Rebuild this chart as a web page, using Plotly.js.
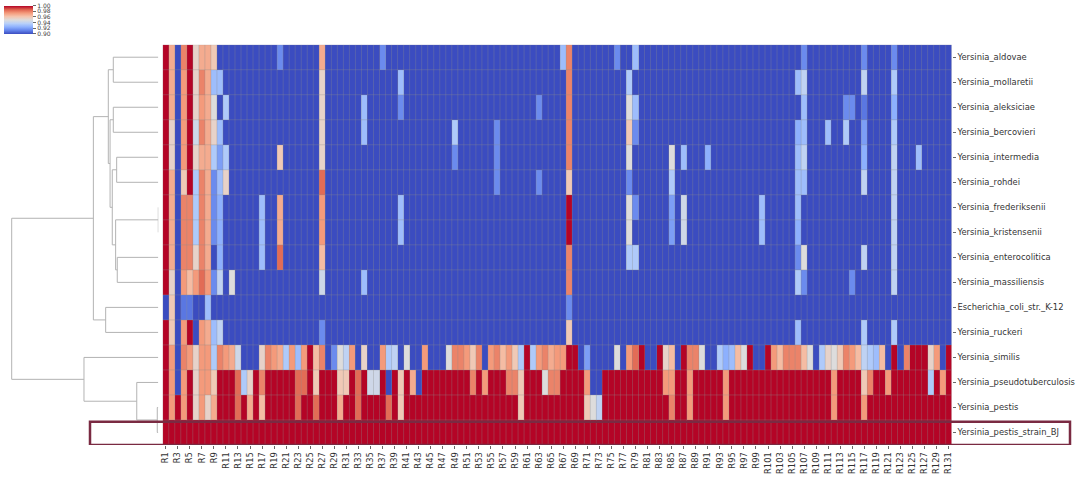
<!DOCTYPE html>
<html><head><meta charset="utf-8">
<script src="https://cdn.plot.ly/plotly-3.0.1.min.js"></script>
<style>html,body{margin:0;padding:0;background:#fff}#chart{width:1080px;height:480px}</style>
</head><body><div id="chart"></div>
<script>
const rowLabels = ["Yersinia_aldovae","Yersinia_mollaretii","Yersinia_aleksiciae","Yersinia_bercovieri","Yersinia_intermedia","Yersinia_rohdei","Yersinia_frederiksenii","Yersinia_kristensenii","Yersinia_enterocolitica","Yersinia_massiliensis","Escherichia_coli_str._K-12","Yersinia_ruckeri","Yersinia_similis","Yersinia_pseudotuberculosis","Yersinia_pestis","Yersinia_pestis_strain_BJ"];
const columnLabels = ["R1","R2","R3","R4","R5","R6","R7","R8","R9","R10","R11","R12","R13","R14","R15","R16","R17","R18","R19","R20","R21","R22","R23","R24","R25","R26","R27","R28","R29","R30","R31","R32","R33","R34","R35","R36","R37","R38","R39","R40","R41","R42","R43","R44","R45","R46","R47","R48","R49","R50","R51","R52","R53","R54","R55","R56","R57","R58","R59","R60","R61","R62","R63","R64","R65","R66","R67","R68","R69","R70","R71","R72","R73","R74","R75","R76","R77","R78","R79","R80","R81","R82","R83","R84","R85","R86","R87","R88","R89","R90","R91","R92","R93","R94","R95","R96","R97","R98","R99","R100","R101","R102","R103","R104","R105","R106","R107","R108","R109","R110","R111","R112","R113","R114","R115","R116","R117","R118","R119","R120","R121","R122","R123","R124","R125","R126","R127","R128","R129","R130","R131"];
const colorbarTicks = [0.90,0.92,0.94,0.96,0.98,1.00];
const colorbarTickText = ["0.90","0.92","0.94","0.96","0.98","1.00"];

const aldovae = [
1,.97,.9,.98,1,.955,.97,.97,.96,.9,
.9,.9,.9,.9,.9,.9,.9,.9,.9,.915,
.9,.9,.9,.9,.9,.9,.97,.9,.9,.9,
.9,.9,.9,.9,.9,.9,.915,.9,.9,.9,
.9,.9,.9,.9,.9,.9,.9,.9,.9,.9,
.9,.9,.9,.9,.9,.9,.9,.9,.9,.9,
.9,.9,.9,.9,.9,.9,.93,.98,.9,.9,
.9,.9,.9,.9,.9,.915,.9,.9,.93,.9,
.9,.9,.9,.9,.9,.9,.9,.9,.9,.9,
.9,.9,.9,.9,.9,.9,.9,.9,.9,.9,
.9,.9,.9,.9,.9,.9,.915,.9,.9,.9,
.9,.9,.9,.9,.9,.9,.915,.9,.9,.9,
.9,.915,.9,.9,.9,.9,.9,.9,.9,.9,
.9];
const mollaretii = [
1,.97,.9,.975,1,.955,.98,.97,.93,.93,
.9,.9,.9,.9,.9,.9,.9,.9,.9,.9,
.9,.9,.9,.9,.9,.9,.955,.9,.9,.9,
.9,.9,.9,.9,.9,.9,.9,.9,.9,.93,
.9,.9,.9,.9,.9,.9,.9,.9,.9,.9,
.9,.9,.9,.9,.9,.9,.9,.9,.9,.9,
.9,.9,.9,.9,.9,.9,.9,.98,.9,.9,
.9,.9,.9,.9,.9,.9,.9,.935,.9,.9,
.9,.9,.9,.9,.9,.9,.9,.9,.9,.9,
.9,.9,.9,.9,.9,.9,.9,.9,.9,.9,
.9,.9,.9,.9,.9,.93,.94,.9,.9,.9,
.9,.9,.9,.9,.9,.9,.94,.9,.9,.9,
.9,.935,.9,.9,.9,.9,.9,.9,.9,.9,
.9];
const aleksiciae = [
1,.97,.9,.975,1,.955,.975,.97,.95,.9,
.935,.9,.9,.9,.9,.9,.9,.9,.9,.9,
.9,.9,.9,.9,.9,.9,.955,.9,.9,.9,
.9,.9,.9,.93,.9,.9,.9,.9,.9,.915,
.9,.9,.9,.9,.9,.9,.9,.9,.9,.9,
.9,.9,.9,.9,.9,.9,.9,.9,.9,.9,
.9,.9,.915,.9,.9,.9,.9,.98,.9,.9,
.9,.9,.9,.9,.9,.9,.9,.95,.93,.9,
.9,.9,.9,.9,.9,.9,.9,.9,.9,.9,
.9,.9,.9,.9,.9,.9,.9,.9,.9,.9,
.9,.9,.9,.9,.9,.9,.93,.9,.9,.9,
.9,.9,.9,.915,.915,.9,.91,.9,.9,.9,
.9,.925,.9,.9,.9,.9,.9,.9,.9,.9,
.9];
const bercovieri = [
1,.955,.9,.975,1,.945,.98,.97,.955,.93,
.9,.9,.9,.9,.9,.9,.9,.9,.9,.9,
.9,.9,.9,.9,.9,.9,.955,.9,.9,.9,
.9,.9,.9,.93,.9,.9,.9,.9,.9,.9,
.9,.9,.9,.9,.9,.9,.9,.9,.935,.9,
.9,.9,.9,.9,.9,.915,.9,.9,.9,.9,
.9,.9,.9,.9,.9,.9,.9,.98,.9,.9,
.9,.9,.9,.9,.9,.9,.9,.96,.915,.9,
.9,.9,.9,.9,.9,.9,.9,.9,.9,.9,
.9,.9,.9,.9,.9,.9,.9,.9,.9,.9,
.9,.9,.9,.9,.9,.925,.93,.9,.9,.9,
.93,.9,.9,.935,.9,.9,.92,.9,.9,.9,
.9,.935,.9,.9,.9,.9,.9,.9,.9,.9,
.9];
const intermedia = [
1,.955,.9,.975,1,.955,.97,.97,.935,.92,
.935,.9,.9,.9,.9,.9,.9,.9,.9,.96,
.9,.9,.9,.9,.9,.9,.955,.9,.9,.9,
.9,.9,.9,.9,.9,.9,.9,.9,.9,.9,
.9,.9,.9,.9,.9,.9,.9,.9,.915,.9,
.9,.9,.9,.9,.9,.915,.9,.9,.9,.9,
.9,.9,.9,.9,.9,.9,.9,.98,.9,.9,
.9,.9,.9,.9,.9,.9,.9,.95,.9,.9,
.9,.9,.9,.9,.95,.9,.93,.9,.9,.9,
.925,.9,.9,.9,.9,.9,.9,.9,.9,.9,
.9,.9,.9,.9,.9,.93,.94,.9,.9,.9,
.9,.9,.9,.9,.9,.9,.925,.9,.9,.9,
.9,.94,.9,.9,.9,.93,.9,.9,.9,.9,
.9];
const rohdei = [
1,.97,.9,.96,1,.935,.98,.97,.915,.93,
.955,.9,.9,.9,.9,.9,.9,.9,.9,.9,
.9,.9,.9,.9,.9,.9,.985,.9,.9,.9,
.9,.9,.9,.9,.9,.9,.9,.9,.9,.9,
.9,.9,.9,.9,.9,.9,.9,.9,.9,.9,
.9,.9,.9,.9,.9,.915,.9,.9,.9,.9,
.9,.9,.915,.9,.9,.9,.9,.96,.9,.9,
.9,.9,.9,.9,.9,.9,.9,.915,.9,.9,
.9,.9,.9,.9,.935,.9,.9,.9,.9,.9,
.9,.9,.9,.9,.9,.9,.9,.9,.9,.9,
.9,.9,.9,.9,.9,.93,.93,.9,.9,.9,
.9,.9,.9,.9,.9,.9,.94,.9,.9,.9,
.9,.94,.9,.9,.9,.9,.9,.9,.9,.9,
.9];
const frederiksenii = [
1,.97,.9,.98,.98,.935,.98,.97,.915,.925,
.9,.9,.9,.9,.9,.9,.93,.9,.9,.97,
.9,.9,.9,.9,.9,.9,.975,.9,.9,.9,
.9,.9,.9,.9,.9,.9,.9,.9,.9,.93,
.9,.9,.9,.9,.9,.9,.9,.9,.9,.9,
.9,.9,.9,.9,.9,.9,.9,.9,.9,.9,
.9,.9,.9,.9,.9,.9,.9,1,.9,.9,
.9,.9,.9,.9,.9,.9,.9,.95,.915,.9,
.9,.9,.9,.9,.92,.9,.945,.9,.9,.9,
.9,.9,.9,.9,.9,.9,.9,.9,.9,.93,
.9,.9,.9,.9,.9,.93,.9,.9,.9,.9,
.9,.9,.9,.9,.9,.9,.9,.9,.9,.9,
.9,.94,.9,.9,.9,.9,.9,.9,.9,.9,
.9];
const kristensenii = [
1,.97,.9,.98,.98,.935,.98,.97,.915,.925,
.9,.9,.9,.9,.9,.9,.93,.9,.9,.97,
.9,.9,.9,.9,.9,.9,.975,.9,.9,.9,
.9,.9,.9,.9,.9,.9,.9,.9,.9,.93,
.9,.9,.9,.9,.9,.9,.9,.9,.9,.9,
.9,.9,.9,.9,.9,.9,.9,.9,.9,.9,
.9,.9,.9,.9,.9,.9,.9,1,.9,.9,
.9,.9,.9,.9,.9,.9,.9,.95,.9,.9,
.9,.9,.9,.9,.92,.9,.945,.9,.9,.9,
.9,.9,.9,.9,.9,.9,.9,.9,.9,.93,
.9,.9,.9,.9,.9,.925,.9,.9,.9,.9,
.9,.9,.9,.9,.9,.9,.9,.9,.9,.9,
.9,.94,.9,.9,.9,.9,.9,.9,.9,.9,
.9];
const enterocolitica = [
1,.97,.9,.98,.98,.955,.98,.97,.9,.925,
.9,.9,.9,.9,.9,.9,.93,.9,.9,.985,
.9,.9,.9,.9,.9,.9,.965,.9,.9,.9,
.9,.9,.9,.9,.9,.9,.9,.9,.9,.9,
.9,.9,.9,.9,.9,.9,.9,.9,.9,.9,
.9,.9,.9,.9,.9,.9,.9,.9,.9,.9,
.9,.9,.9,.9,.9,.9,.9,.98,.9,.9,
.9,.9,.9,.9,.9,.9,.9,.935,.935,.9,
.9,.9,.9,.9,.9,.9,.9,.9,.9,.9,
.9,.9,.9,.9,.9,.9,.9,.9,.9,.9,
.9,.9,.9,.9,.9,.915,.95,.9,.9,.9,
.9,.9,.9,.9,.9,.9,.94,.9,.9,.9,
.9,.94,.9,.9,.9,.9,.9,.9,.9,.9,
.9];
const massiliensis = [
1,.955,.9,.975,.965,.975,.985,.975,.915,.94,
.9,.95,.9,.9,.9,.9,.9,.9,.9,.9,
.9,.9,.9,.9,.9,.9,.945,.9,.9,.9,
.9,.9,.9,.93,.9,.9,.9,.9,.9,.9,
.9,.9,.9,.9,.9,.9,.9,.9,.9,.9,
.9,.9,.9,.9,.9,.9,.9,.9,.9,.9,
.9,.9,.9,.9,.9,.9,.9,.98,.9,.9,
.9,.9,.9,.9,.9,.9,.9,.9,.9,.9,
.9,.9,.9,.9,.9,.9,.9,.9,.9,.9,
.9,.9,.9,.9,.9,.9,.9,.9,.9,.9,
.9,.9,.9,.9,.9,.935,.915,.9,.9,.9,
.9,.9,.9,.9,.915,.9,.9,.9,.9,.9,
.9,.94,.9,.9,.9,.9,.9,.9,.9,.9,
.9];
const ecoliK12 = [
.9,.96,.9,.91,.91,.9,.9,.93,.9,.9,
.9,.9,.9,.9,.9,.9,.9,.9,.9,.9,
.9,.9,.9,.9,.9,.9,.9,.9,.9,.9,
.9,.9,.9,.9,.9,.9,.9,.9,.9,.9,
.9,.9,.9,.9,.9,.9,.9,.9,.9,.9,
.9,.9,.9,.9,.9,.9,.9,.9,.9,.9,
.9,.9,.9,.9,.9,.9,.9,.915,.9,.9,
.9,.9,.9,.9,.9,.9,.9,.9,.9,.9,
.9,.9,.9,.9,.9,.9,.9,.9,.9,.9,
.9,.9,.9,.9,.9,.9,.9,.9,.9,.9,
.9,.9,.9,.9,.9,.9,.9,.9,.9,.9,
.9,.9,.9,.9,.9,.9,.9,.9,.9,.9,
.9,.9,.9,.9,.9,.9,.9,.9,.9,.9,
.9];
const ruckeri = [
1,.96,.9,.975,1,.9,.975,.97,.93,.94,
.9,.9,.9,.9,.9,.9,.9,.9,.9,.9,
.9,.9,.9,.9,.9,.9,.915,.9,.9,.9,
.9,.9,.9,.9,.9,.9,.9,.9,.9,.9,
.9,.9,.9,.9,.9,.9,.9,.9,.9,.9,
.9,.9,.9,.9,.9,.9,.9,.9,.9,.9,
.9,.9,.9,.9,.9,.9,.9,.96,.9,.9,
.9,.9,.9,.9,.9,.9,.9,.9,.9,.9,
.9,.9,.9,.9,.9,.9,.9,.9,.9,.9,
.9,.9,.9,.9,.9,.9,.9,.9,.9,.9,
.9,.9,.9,.9,.9,.93,.9,.9,.9,.9,
.9,.9,.9,.9,.9,.9,.935,.9,.9,.9,
.9,.935,.9,.9,.9,.9,.9,.9,.9,.9,
.9];
const similis = [
1,.975,.9,.98,.975,.955,.975,.975,.935,.98,
.975,.97,.945,.9,.9,.9,.955,.98,.975,.97,
.935,.975,.93,.975,1,.965,.98,.9,.915,.95,
.94,.975,.9,.955,.9,.9,.975,.935,.94,.9,
.95,.9,.9,.975,.9,.9,.9,.95,.98,.98,
.975,.96,.98,.9,.975,.98,.965,.975,.96,.935,
1,.935,.975,.98,.97,.975,.975,1,1,.9,
.92,.9,.9,.9,.9,.95,.9,.975,.985,1,
.9,.9,1,.955,.965,.9,1,.98,.98,.95,
.9,.9,.935,.925,.93,.965,.95,1,.9,.9,
1,.975,.965,.98,.98,.98,.965,.95,.9,.935,
.955,.95,.96,.98,.975,.965,.94,.935,.93,.965,
.9,1,.9,.98,1,1,1,.955,.975,.9,
1];
const pseudotuberculosis = [
1,.975,.9,.975,1,.955,.975,.975,.96,1,
1,1,.985,.935,.955,1,.98,1,1,1,
1,1,.985,.985,1,.96,1,1,1,.96,
.96,1,.985,1,.945,.945,1,.9,1,.96,
1,.97,.9,1,1,1,1,1,1,1,
1,.98,1,.975,1,1,1,.98,.98,.96,
1,1,1,.95,.98,.98,1,1,1,1,
.975,.9,.9,1,1,1,1,1,1,1,
1,1,1,.975,.975,1,1,.975,1,1,
1,1,1,.975,1,1,1,1,1,1,
1,1,1,1,1,1,1,1,1,1,
1,.975,1,1,1,1,.96,.98,1,1,
.975,1,1,1,1,1,1,.935,1,.975,
1];
const pestis = [
1,.975,1,.975,1,.955,.975,.955,.97,1,
1,1,.985,1,.97,1,.965,1,1,1,
1,1,.985,1,1,.985,1,1,1,.97,
1,1,.985,1,1,1,1,.985,1,.96,
1,1,1,1,1,1,1,1,1,1,
1,1,1,1,1,1,1,1,1,.96,
1,1,1,1,1,1,1,1,1,1,
.96,.95,.94,1,1,1,1,1,1,1,
1,1,1,1,.98,1,1,.975,1,1,
1,1,1,.975,1,1,1,1,1,1,
1,1,1,1,1,1,1,1,1,1,
1,.975,1,1,1,1,.975,1,1,1,
1,1,1,1,1,1,1,1,1,1,
1];
const pestisStrainBJ = [
1,1,1,1,1,1,1,1,1,1,
1,1,1,1,1,1,1,1,1,1,
1,1,1,1,1,1,1,1,1,1,
1,1,1,1,1,1,1,1,1,1,
1,1,1,1,1,1,1,1,1,1,
1,1,1,1,1,1,1,1,1,1,
1,1,1,1,1,1,1,1,1,1,
1,1,1,1,1,1,1,1,1,1,
1,1,1,1,1,1,1,1,1,1,
1,1,1,1,1,1,1,1,1,1,
1,1,1,1,1,1,1,1,1,1,
1,1,1,1,1,1,1,1,1,1,
1,1,1,1,1,1,1,1,1,1,
1];

// dendrogram linkage (scipy-like: clusters >= 16 are merged nodes)
const linkLeft   = [0, 2, 4, 6, 8, 19, 18, 17, 16, 10, 24, 14, 13, 12, 26];
const linkRight  = [1, 3, 5, 7, 9, 20, 21, 22, 23, 11, 25, 15, 27, 28, 29];
const linkHeight = [.307,.307,.284,0,.280,.291,.314,.329,.341,.359,.443,.007,.147,.507,1.0];

const zRows = [aldovae, mollaretii, aleksiciae, bercovieri, intermedia, rohdei, frederiksenii, kristensenii, enterocolitica, massiliensis, ecoliK12, ruckeri, similis, pseudotuberculosis, pestis, pestisStrainBJ];
zRows.forEach((r, i) => { if (r.length !== columnLabels.length) throw new Error('row ' + i + ' length ' + r.length); });

const nRows = rowLabels.length, nCols = columnLabels.length;
const rowIdx = rowLabels.map((_, i) => i);

// dendrogram coordinates
const pos = [], hgt = [];
for (let i = 0; i < nRows; i++) { pos.push(i); hgt.push(0); }
const dx = [], dy = [];
for (let k = 0; k < linkLeft.length; k++) {
  const a = linkLeft[k], b = linkRight[k], h = linkHeight[k];
  dx.push(hgt[a], h, h, hgt[b], null);
  dy.push(pos[a], pos[a], pos[b], pos[b], null);
  pos.push((pos[a] + pos[b]) / 2); hgt.push(h);
}

const W = 1080, H = 480;
const hmL = 162.7, hmR = 951.7, hmT = 44.7, hmB = 445;
// dendrogram: leaf level at px 158.3 (right edge of its domain), root at px 11.7
const dA = 0, leafPx = 158.3, rootPx = 11.7, maxH = Math.max(...linkHeight);
const span = (leafPx - dA) * maxH / (leafPx - rootPx);
const dRange = [span, 0];

const coolwarm = [[0,'#3b4cc0'],[0.125,'#6282ea'],[0.25,'#8db0fe'],[0.375,'#b8d0f9'],[0.5,'#dddcdc'],[0.625,'#f5c4ad'],[0.75,'#f49a7b'],[0.875,'#de604d'],[1,'#b40426']];

const shapes = [];
for (let i = 0; i <= nCols; i++) {
  shapes.push({type:'line', xref:'x', yref:'y', x0:i-0.5, x1:i-0.5, y0:-0.5, y1:nRows-0.5, line:{color:'rgba(140,140,140,0.55)', width:0.6}, layer:'above'});
}
for (let j = 0; j <= nRows; j++) {
  shapes.push({type:'line', xref:'x', yref:'y', x0:-0.5, x1:nCols-0.5, y0:j-0.5, y1:j-0.5, line:{color:'rgba(140,140,140,0.55)', width:0.6}, layer:'above'});
}
const bj = rowLabels.indexOf('Yersinia_pestis_strain_BJ');
shapes.push({type:'rect', xref:'paper', yref:'y', x0:90/W, x1:1070/W, y0:bj-0.5+0.07, y1:bj+0.5, line:{color:'#7a2a42', width:2.5}, fillcolor:'rgba(0,0,0,0)', layer:'above'});

const heat = {
  type:'heatmap', z:zRows, x:columnLabels, y:rowIdx,
  colorscale:coolwarm, zmin:0.9, zmax:1.0, hoverinfo:'skip',
  colorbar:{x:4/W, xanchor:'left', y:1-5.7/H, yanchor:'top', xpad:0, ypad:0,
    thickness:29.3, thicknessmode:'pixels', len:28.3, lenmode:'pixels', outlinewidth:0,
    tickmode:'array', tickvals:colorbarTicks, ticktext:colorbarTickText,
    ticks:'outside', ticklen:3.5, tickwidth:0.8, tickcolor:'#444',
    tickfont:{size:6, family:'DejaVu Sans', color:'#444'}}
};
const dendro = {type:'scatter', mode:'lines', x:dx, y:dy, xaxis:'x2', yaxis:'y',
  line:{color:'#b3b3b3', width:1}, hoverinfo:'skip', showlegend:false};

const layout = {
  width:W, height:H, margin:{l:0, r:0, t:0, b:0},
  paper_bgcolor:'#ffffff', plot_bgcolor:'rgba(0,0,0,0)',
  font:{family:'DejaVu Sans', color:'#333'},
  showlegend:false, shapes:shapes,
  xaxis:{domain:[hmL/W, hmR/W], type:'category', tickmode:'array',
    tickvals:columnLabels.filter((_, i) => i % 2 === 0), ticktext:columnLabels.filter((_, i) => i % 2 === 0),
    tickangle:-90, tickfont:{size:8.3, color:'#333'}, ticks:'outside', ticklen:3, tickwidth:0.8, tickcolor:'#444',
    showgrid:false, zeroline:false, showline:false, automargin:false, range:[-0.5, nCols-0.5]},
  yaxis:{domain:[1-hmB/H, 1-hmT/H], range:[nRows-0.5, -0.5], side:'right', tickmode:'array',
    tickvals:rowIdx, ticktext:rowLabels, tickfont:{size:8.4, color:'#333'}, ticks:'outside', ticklen:3, tickwidth:0.8, tickcolor:'#444',
    showgrid:false, zeroline:false, showline:false, automargin:false},
  xaxis2:{domain:[dA/W, leafPx/W], range:dRange, anchor:'y', showgrid:false, zeroline:false, showline:false, showticklabels:false, ticks:''}
};
Plotly.newPlot('chart', [heat, dendro], layout, {staticPlot:true, displayModeBar:false});
</script>
</body></html>
